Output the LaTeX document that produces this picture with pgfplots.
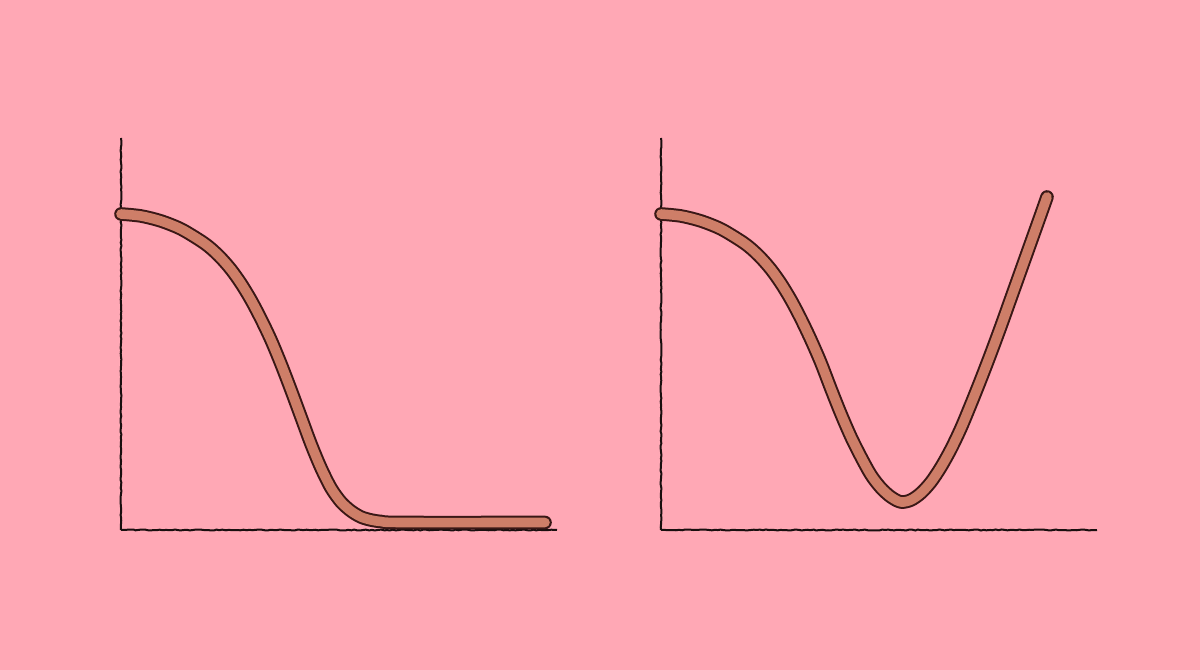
\documentclass[border=0pt]{standalone}
\usepackage{pgfplots}
\pgfplotsset{compat=1.18}
\usetikzlibrary{decorations.pathmorphing}
\definecolor{pinkbg}{RGB}{255,168,181}
\definecolor{curvefill}{RGB}{206,126,104}
\definecolor{curveline}{RGB}{58,24,22}
\definecolor{axisink}{RGB}{25,14,14}

\pgfplotstableread{
x y
0 316
20 314
40 309
60 301
80 289
90 281.5
100 272
110 260.5
120 246.5
130 230
140 211
150 190
160 166
170 140
180 113
190 86
200 62
210 42
220 28
230 19
240 13
250 10
260 8.5
280 7.5
424 7.5
}\leftcurve

\pgfplotstableread{
x y
0 316
20 314
40 309
60 301
80 289
90 281.5
100 272
110 260.5
120 246.5
130 230
140 211
150 190
160 167
170 141
180 116
190 93
200 73
210 55
220 42
230 33
240 28
250 30
260 37
270 48
280 63
290 81
300 102
310 126
320 151
330 177
340 204
350 232
360 260
370 288
380 316
386 333
}\rightcurve

\pgfplotsset{
  panel/.style={
    scale only axis, width=218bp, height=196bp,
    xmin=0, xmax=436, ymin=0, ymax=392,
    axis lines=left,
    axis line style={-, line width=1bp, color=axisink,
      decorate, decoration={random steps, segment length=1.5pt, amplitude=0.25pt}},
    xtick=\empty, ytick=\empty,
    clip=false, anchor=south west,
  },
  outer/.style={smooth, tension=0.5, no marks, line width=6.8bp, color=curveline, line cap=round, line join=round},
  inner/.style={smooth, tension=0.5, no marks, line width=4.8bp, color=curvefill, line cap=round, line join=round},
}

\begin{document}
\begin{tikzpicture}
\fill[pinkbg] (0,0) rectangle (600bp,335bp);
\begin{axis}[panel, at={(60.5bp,70bp)}]
\addplot[outer] table[x=x,y=y] {\leftcurve};
\addplot[inner] table[x=x,y=y] {\leftcurve};
\end{axis}
\begin{axis}[panel, at={(330.5bp,70bp)}]
\addplot[outer] table[x=x,y=y] {\rightcurve};
\addplot[inner] table[x=x,y=y] {\rightcurve};
\end{axis}
\end{tikzpicture}
\end{document}
